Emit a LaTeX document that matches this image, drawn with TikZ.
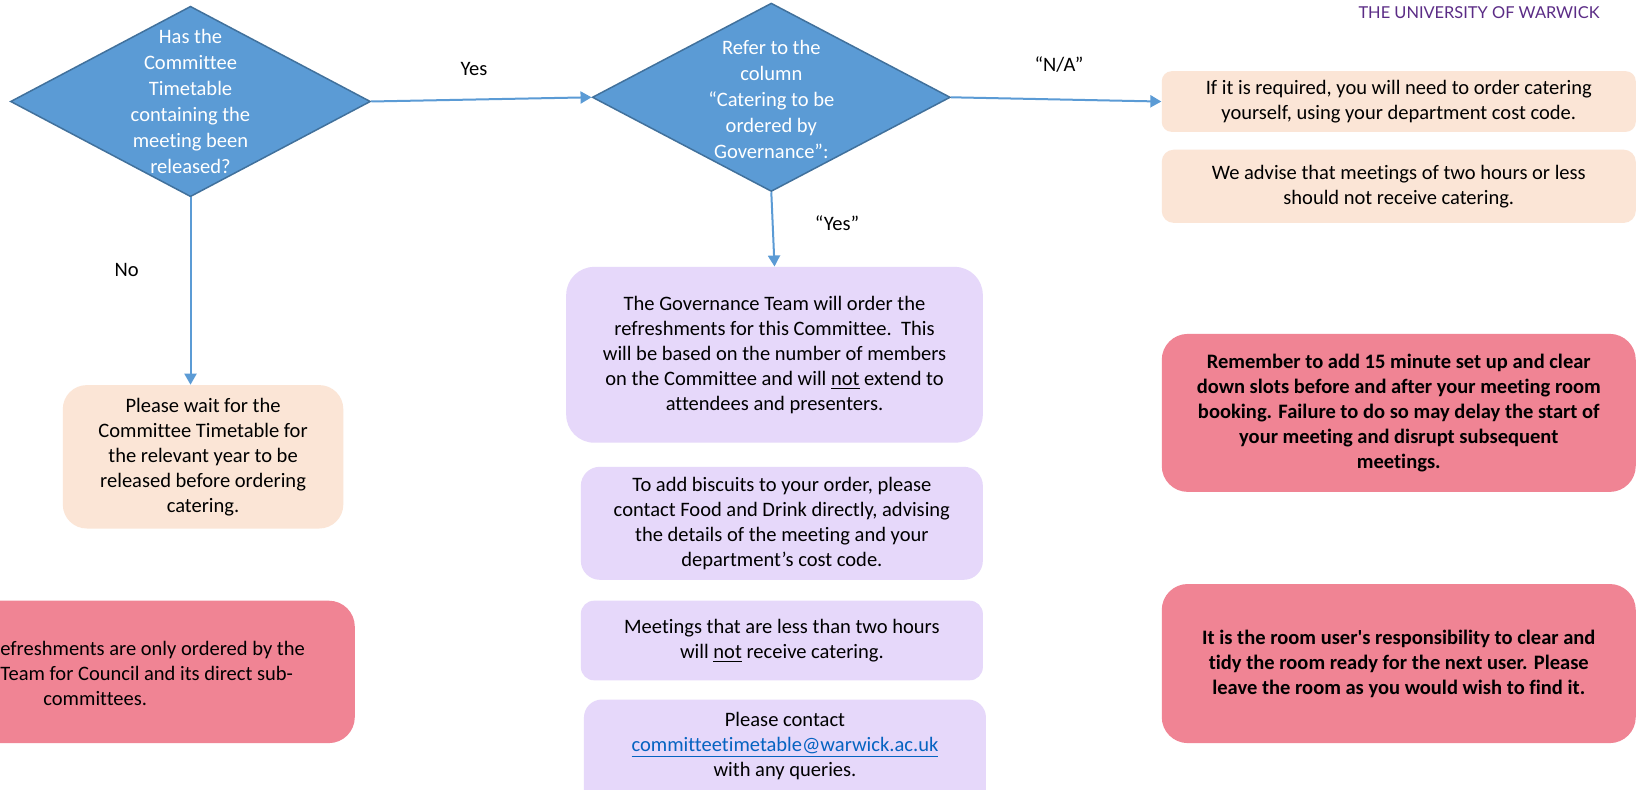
\documentclass[tikz,border=0pt]{standalone}
\usepackage{fontspec}
\setmainfont{Carlito}[Ligatures={TeX,NoCommon}]
\newfontfamily\hdrfont{Lato}
\usetikzlibrary{shapes.geometric,arrows.meta}
\definecolor{dblue}{HTML}{5B9BD5}
\definecolor{dborder}{HTML}{41719C}
\definecolor{peach}{HTML}{FBE5D6}
\definecolor{lav}{HTML}{E6D8FA}
\definecolor{rose}{HTML}{F08494}
\definecolor{wpurple}{HTML}{5B2C86}
\definecolor{linkblue}{HTML}{0563C1}
\begin{document}
\begin{tikzpicture}[x=0.5pt,y=-0.5pt,
  font=\fontsize{10.26}{12.5}\selectfont,
  decision/.style={diamond, draw=dborder, line width=0.75pt, fill=dblue, inner sep=0pt},
  dtext/.style={text=white, align=center, inner sep=0pt, font=\fontsize{10.26}{13}\selectfont},
  peachbox/.style={fill=peach, align=center, inner sep=0pt},
  lavbox/.style={fill=lav, align=center, inner sep=0pt},
  rosebox/.style={fill=rose, align=center, inner sep=0pt},
  boldtext/.style={font=\fontsize{10.26}{12.5}\selectfont\bfseries},
  arr/.style={draw=dblue, line width=1pt, -{Triangle[length=5.5pt,width=6pt]}},
  lbl/.style={inner sep=0pt}]
\clip (0,0) rectangle (1641,790);
\fill[white] (0,0) rectangle (1641,790);

% header
\node[lbl, text=wpurple, font=\hdrfont\fontsize{8.2}{10}\selectfont] (hdr) at (1479,12.6) {THE UNIVERSITY OF WARWICK};

% decisions
\node[decision, minimum width=180pt, minimum height=95.25pt] (d1) at (190.5,101.5) {};
\node[dtext] (d1t) at (190.5,101.5) {Has the\\Committee\\Timetable\\containing the\\meeting been\\released?};
\node[decision, minimum width=179pt, minimum height=94.2pt] (d2) at (771.3,97.3) {};
\node[dtext] (d2t) at (771.3,99.4) {Refer to the\\column\\“Catering to be\\ordered by\\Governance”:};

% right column
\node[peachbox, rounded corners=5pt, minimum width=237pt, minimum height=30.35pt] (o1) at (1398.75,101.55)
  {If it is required, you will need to order catering\\yourself, using your department cost code.};
\node[peachbox, rounded corners=6pt, minimum width=237pt, minimum height=36.6pt] (o2) at (1398.75,186.3)
  {We advise that meetings of two hours or less\\should not receive catering.};
\node[rosebox, boldtext, rounded corners=13pt, minimum width=237pt, minimum height=79pt] (r1) at (1398.75,412.9)
  {Remember to add 15 minute set up and clear\\down slots before and after your meeting room\\booking. Failure to do so may delay the start of\\your meeting and disrupt subsequent\\meetings.};
\node[rosebox, boldtext, rounded corners=13pt, minimum width=237pt, minimum height=79.55pt] (r2) at (1398.75,663.55)
  {It is the room user\textquotesingle s responsibility to clear and\\tidy the room ready for the next user. Please\\leave the room as you would wish to find it.};

% middle column
\node[lavbox, rounded corners=14pt, minimum width=208.3pt, minimum height=87.9pt] (p1) at (774.5,354.8)
  {The Governance Team will order the\\refreshments for this Committee.\ \ This\\will be based on the number of members\\on the Committee and will \underline{not} extend to\\attendees and presenters.};
\node[lavbox, rounded corners=9.5pt, minimum width=201pt, minimum height=56.5pt] (p2) at (781.85,523.3)
  {To add biscuits to your order, please\\contact Food and Drink directly, advising\\the details of the meeting and your\\department’s cost code.};
\node[lavbox, rounded corners=6.6pt, minimum width=201pt, minimum height=39.8pt] (p3) at (781.85,640.5)
  {Meetings that are less than two hours\\will \underline{not} receive catering.};
\node[lavbox, rounded corners=9pt, minimum width=201pt, minimum height=70pt, anchor=north] (p4) at (784.95,699.1) {};
\node[lbl, align=center] (p4t) at (784.95,745.7)
  {Please contact\\{\color{linkblue}\underline{committeetimetable@warwick.ac.uk}}\\with any queries.};

% left column
\node[peachbox, rounded corners=12pt, minimum width=140.25pt, minimum height=71.7pt] (w) at (203.05,456.8)
  {Please wait for the\\Committee Timetable for\\the relevant year to be\\released before ordering\\catering.};
\node[rosebox, rounded corners=13pt, minimum width=207.4pt, minimum height=71.2pt] (pl) at (147.4,671.9) {};
\node[lbl, align=left, anchor=west] (plt) at (0,673.5)
  {efreshments are only ordered by the\\Team for Council and its direct sub-\\\hspace*{21.5pt}committees.};

% connectors
\draw[arr] (d1.east) -- (d2.west);
\draw[arr] (d2.east) -- (o1.west);
\draw[arr] (d2.south) -- (p1.north);
\draw[arr] (d1.south) -- (d1.south |- w.north);

% labels
\node[lbl] (lyes) at (474,69) {Yes};
\node[lbl] (lna) at (1059,65) {“N/A”};
\node[lbl] (lyes2) at (837,223) {“Yes”};
\node[lbl] (lno) at (126.6,270) {No};
\end{tikzpicture}
\end{document}
